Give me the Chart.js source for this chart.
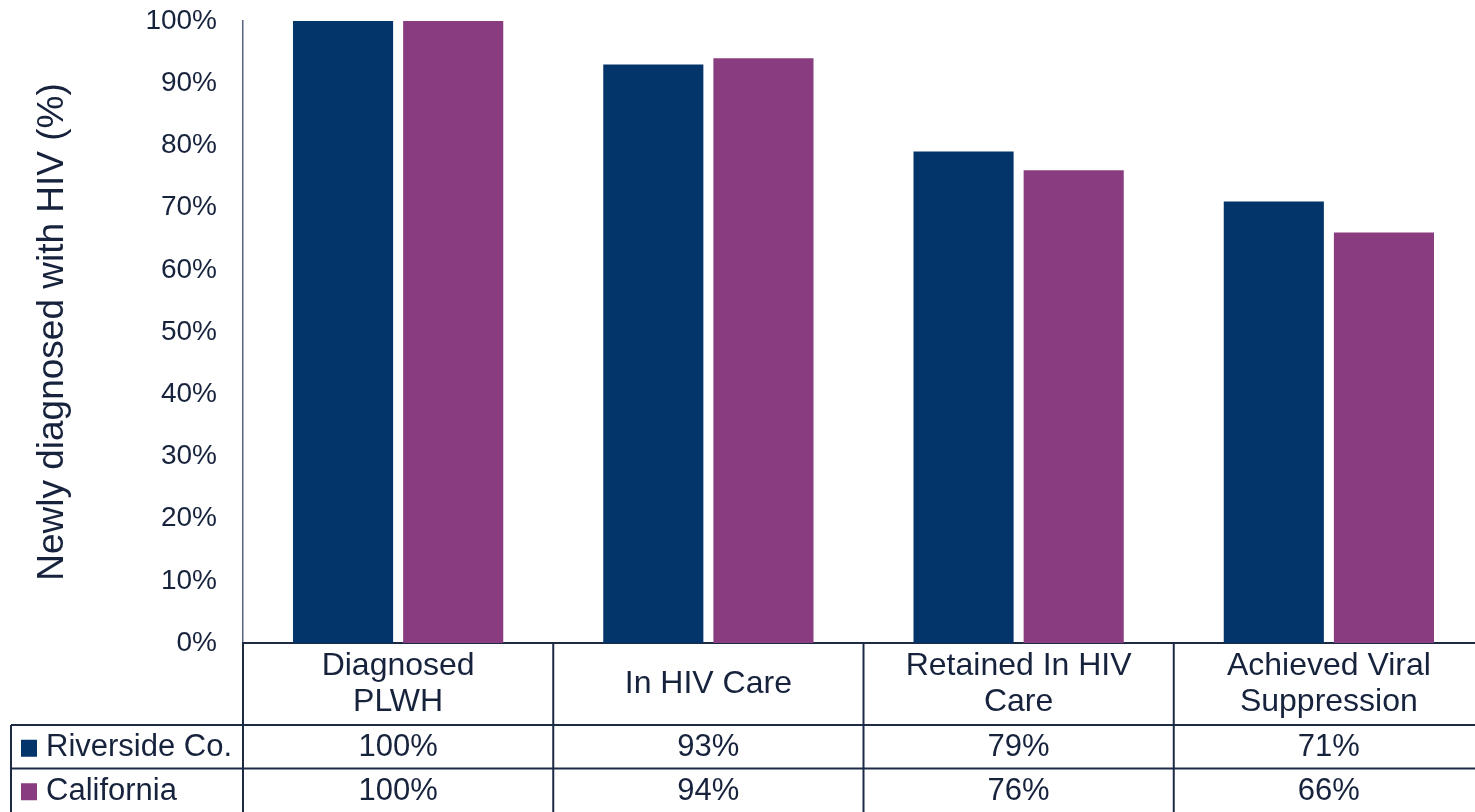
<!DOCTYPE html>
<html>
<head>
<meta charset="utf-8">
<script src="https://cdn.jsdelivr.net/npm/chart.js@4.4.1/dist/chart.umd.min.js"></script>
<style>
  html, body { margin: 0; padding: 0; background: #fff; overflow: hidden; }
  #wrap { width: 1484px; height: 812px; position: relative; }
</style>
</head>
<body>
<div id="wrap"><canvas id="grafica"></canvas></div>
<script>
// --- DATOS ---
const categorias = [['Diagnosed', 'PLWH'], 'In HIV Care', ['Retained In HIV', 'Care'], ['Achieved Viral', 'Suppression']];
const series = ['Riverside Co.', 'California'];
const riverside = [100, 93, 79, 71];
const california = [100, 94, 76, 66];
const ticksY = [0, 10, 20, 30, 40, 50, 60, 70, 80, 90, 100];

const colores = ['#03356a', '#893c7f'];
const colorTexto = '#17233d';
const colorLinea = '#1c2a46';
const fuente = "'Liberation Sans', Arial, sans-serif";

// --- TABLA DE DATOS BAJO EL EJE X ---
const tablaPlugin = {
    id: 'tablaDatos',
    afterDraw(chart) {
        const ctx = chart.ctx;
        const x = chart.scales.x;
        const area = chart.chartArea;
        const n = categorias.length;
        const ancho = x.width / n;
        const filaTop = 725;
        const filaAlto = 43.5;
        const abajo = chart.height;
        const datos = [riverside, california];

        ctx.save();
        ctx.strokeStyle = colorLinea;
        ctx.lineWidth = 2;

        // líneas verticales de columnas
        for (let i = 0; i < n; i++) {
            const borde = x.getPixelForValue(i) - ancho / 2;
            ctx.beginPath();
            ctx.moveTo(borde, area.bottom);
            ctx.lineTo(borde, abajo);
            ctx.stroke();
        }
        // líneas horizontales de filas
        ctx.beginPath();
        ctx.moveTo(11, filaTop);
        ctx.lineTo(x.right, filaTop);
        ctx.moveTo(11, filaTop + filaAlto);
        ctx.lineTo(x.right, filaTop + filaAlto);
        ctx.moveTo(11, filaTop);
        ctx.lineTo(11, abajo);
        ctx.stroke();

        ctx.font = '31px ' + fuente;
        ctx.fillStyle = colorTexto;
        ctx.textBaseline = 'middle';

        datos.forEach((serie, s) => {
            const yc = filaTop + filaAlto * s + filaAlto / 2 + 1;
            // leyenda
            ctx.fillStyle = colores[s];
            ctx.fillRect(21, yc - 8, 16, 17);
            ctx.fillStyle = colorTexto;
            ctx.textAlign = 'left';
            ctx.fillText(series[s], 46, yc);
            // valores
            ctx.textAlign = 'center';
            serie.forEach((v, i) => {
                ctx.fillText(v + '%', x.getPixelForValue(i), yc);
            });
        });
        ctx.restore();
    }
};

const ctxGrafica = document.getElementById('grafica').getContext('2d');

new Chart(ctxGrafica, {
    type: 'bar',
    data: {
        labels: categorias,
        datasets: [
            {
                label: series[0],
                data: riverside,
                backgroundColor: colores[0],
                categoryPercentage: 0.71,
                barPercentage: 0.909
            },
            {
                label: series[1],
                data: california,
                backgroundColor: colores[1],
                categoryPercentage: 0.71,
                barPercentage: 0.909
            }
        ]
    },
    options: {
        responsive: true,
        maintainAspectRatio: false,
        animation: false,
        layout: { padding: { top: 21, right: 0, bottom: 0, left: 0 } },
        plugins: {
            legend: { display: false },
            tooltip: { enabled: false }
        },
        scales: {
            y: {
                min: 0,
                max: 100,
                afterFit: (scale) => {
                    scale.width = 243;
                    scale.paddingTop = 0;
                    scale.paddingBottom = 0;
                },
                afterBuildTicks: (scale) => { scale.ticks = ticksY.map(v => ({ value: v })); },
                grid: { display: false, drawTicks: false },
                border: { display: true, color: '#56637e', width: 1.5 },
                ticks: {
                    padding: 26,
                    color: colorTexto,
                    font: { family: fuente, size: 28 },
                    callback: (v) => v + '%'
                },
                title: {
                    display: true,
                    text: 'Newly diagnosed with HIV (%)',
                    color: colorTexto,
                    font: { family: fuente, size: 37 },
                    padding: { top: 31, bottom: 0 }
                }
            },
            x: {
                afterFit: (scale) => { scale.height = 169; },
                grid: { display: false, drawTicks: false },
                border: { display: true, color: colorLinea, width: 2 },
                ticks: {
                    padding: 23,
                    crossAlign: 'center',
                    maxRotation: 0,
                    autoSkip: false,
                    color: colorTexto,
                    font: { family: fuente, size: 32, lineHeight: 1.13 }
                }
            }
        }
    },
    plugins: [tablaPlugin]
});
</script>
</body>
</html>
